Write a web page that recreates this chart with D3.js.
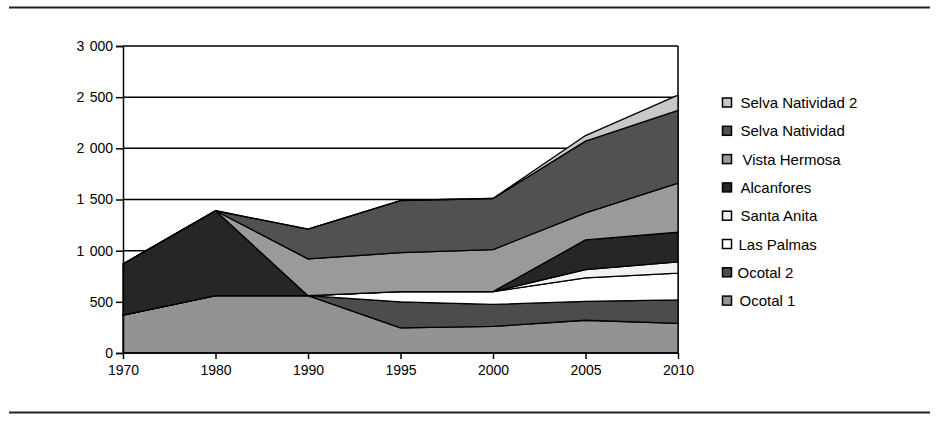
<!DOCTYPE html>
<html>
<head>
<meta charset="utf-8">
<script src="https://cdn.jsdelivr.net/npm/d3@7"></script>
<style>
  html, body { margin: 0; padding: 0; background: #ffffff; }
  svg { display: block; }
  text { font-family: Arial, "Liberation Sans", sans-serif; fill: #000; }
</style>
</head>
<body>
<svg id="chart" width="939" height="423"></svg>
<script>
// ---- data ----
const years = ["1970", "1980", "1990", "1995", "2000", "2005", "2010"];
const ocotal1         = [370, 560, 560, 245, 260, 320, 290];
const ocotal2         = [0,   0,   0,   255, 215, 185, 230];
const lasPalmas       = [0,   0,   0,   100, 125, 230, 260];
const santaAnita      = [0,   0,   0,   0,   0,   80,  110];
const alcanfores      = [500, 830, 0,   0,   0,   290, 290];
const vistaHermosa    = [0,   0,   360, 380, 410, 265, 480];
const selvaNatividad  = [0,   0,   290, 510, 500, 700, 710];
const selvaNatividad2 = [0,   0,   0,   0,   0,   55,  150];
const seriesNames = ["Ocotal 1", "Ocotal 2", "Las Palmas", "Santa Anita", "Alcanfores",
                     "Vista Hermosa", "Selva Natividad", "Selva Natividad 2"];
const seriesValues = [ocotal1, ocotal2, lasPalmas, santaAnita, alcanfores,
                      vistaHermosa, selvaNatividad, selvaNatividad2];
const yTicks = [0, 500, 1000, 1500, 2000, 2500, 3000];
const yTickLabels = ["0", "500", "1 000", "1 500", "2 000", "2 500", "3 000"];

// ---- styles ----
const colors = {
  "Ocotal 1": "#939393",
  "Ocotal 2": "#4b4d4b",
  "Las Palmas": "#ffffff",
  "Santa Anita": "#f1f3f3",
  "Alcanfores": "#262626",
  "Vista Hermosa": "#9a9a9a",
  "Selva Natividad": "#4f524f",
  "Selva Natividad 2": "#c8c8c8"
};

const table = years.map((yr, i) => {
  const row = { year: yr };
  seriesNames.forEach((n, k) => { row[n] = seriesValues[k][i]; });
  return row;
});

const svg = d3.select("#chart");

// horizontal rules
svg.append("line").attr("x1", 9).attr("x2", 930).attr("y1", 7.5).attr("y2", 7.5)
  .attr("stroke", "#222").attr("stroke-width", 2);
svg.append("line").attr("x1", 9).attr("x2", 930).attr("y1", 412.5).attr("y2", 412.5)
  .attr("stroke", "#222").attr("stroke-width", 2);

const x = d3.scalePoint().domain(years).range([123, 678]);
const y = d3.scaleLinear().domain([0, 3000]).range([353, 46]);

// gridlines
svg.append("g").selectAll("line").data(yTicks.slice(1)).join("line")
  .attr("x1", 123).attr("x2", 678)
  .attr("y1", d => y(d)).attr("y2", d => y(d))
  .attr("stroke", "#000").attr("stroke-width", 1.5);

// right border of plot
svg.append("line").attr("x1", 678).attr("x2", 678).attr("y1", y(3000)).attr("y2", y(0))
  .attr("stroke", "#000").attr("stroke-width", 1.5);

// stacked areas
const stack = d3.stack().keys(seriesNames);
const stacked = stack(table);
const area = d3.area()
  .x(d => x(d.data.year))
  .y0(d => y(d[0]))
  .y1(d => y(d[1]));

svg.append("g").selectAll("path").data(stacked).join("path")
  .attr("d", area)
  .attr("fill", d => colors[d.key])
  .attr("stroke", "#000")
  .attr("stroke-width", 1.3)
  .attr("stroke-linejoin", "round");

// y axis
const yAxis = d3.axisLeft(y).tickValues(yTicks)
  .tickFormat((d, i) => yTickLabels[i]).tickSize(7).tickPadding(3);
const gy = svg.append("g").attr("transform", "translate(123,0)").call(yAxis);
gy.select(".domain").attr("stroke", "#000").attr("stroke-width", 1.5);
gy.selectAll(".tick line").attr("stroke", "#000").attr("stroke-width", 1.5);
gy.selectAll(".tick text").attr("font-size", "14px").attr("word-spacing", "1.5px")
  .attr("font-family", "Arial, 'Liberation Sans', sans-serif").attr("fill", "#000");

// x axis
const xAxis = d3.axisBottom(x).tickSize(6).tickPadding(6);
const gx = svg.append("g").attr("transform", "translate(0,353)").call(xAxis);
gx.select(".domain").attr("stroke", "#000").attr("stroke-width", 1.5)
  .attr("d", "M123,0H678");
gx.selectAll(".tick line").attr("stroke", "#000").attr("stroke-width", 1.5);
gx.selectAll(".tick text").attr("font-size", "14px")
  .attr("font-family", "Arial, 'Liberation Sans', sans-serif").attr("fill", "#000");

// legend (top to bottom = reverse stack order)
const legendNames = seriesNames.slice().reverse();
const textOffsets = { "Vista Hermosa": 2, "Las Palmas": -2, "Ocotal 2": -3, "Ocotal 1": -1 };
const lg = svg.append("g");
legendNames.forEach((n, i) => {
  const cy = 102.5 + i * 28.3;
  lg.append("rect").attr("x", 722.5).attr("y", cy - 4.5).attr("width", 9).attr("height", 9)
    .attr("fill", colors[n]).attr("stroke", "#000").attr("stroke-width", 1.5);
  lg.append("text").attr("x", 740.5 + (textOffsets[n] || 0)).attr("y", cy + 5.5)
    .attr("font-size", "15px").text(n);
});
</script>
</body>
</html>
